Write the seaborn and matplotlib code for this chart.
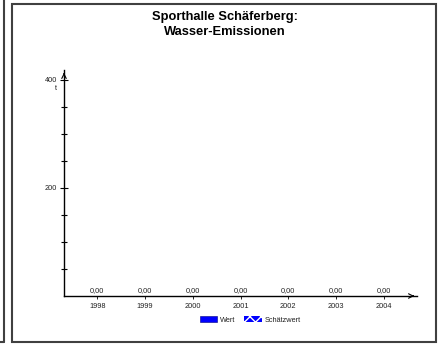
import matplotlib
matplotlib.use("Agg")
import matplotlib.pyplot as plt
import seaborn as sns
import pandas as pd
from matplotlib.patches import Rectangle, Patch
from matplotlib.lines import Line2D

years = ["1998", "1999", "2000", "2001", "2002", "2003", "2004"]
wert = [0.0, 0.0, 0.0, 0.0, 0.0, 0.0, 0.0]
title = "Sporthalle Schäferberg:\nWasser-Emissionen"
unit = "t"
major_ticks = [200, 400]
minor_ticks = [50, 100, 150, 250, 300, 350]
legend_labels = ["Wert", "Schätzwert"]

sns.set_theme(style="white")
plt.rcParams["font.family"] = ["Liberation Sans", "DejaVu Sans"]

W, H = 442, 345
fig = plt.figure(figsize=(W / 100, H / 100), dpi=100)
fig.patch.set_facecolor("white")

# panel borders
fig.add_artist(Line2D([4 / W, 4 / W], [1, 1 - 342 / H], transform=fig.transFigure, color="#404040", lw=1.5))
fig.add_artist(Line2D([0, 4 / W], [1 - 342 / H, 1 - 342 / H], transform=fig.transFigure, color="#404040", lw=1.5))
fig.add_artist(Rectangle((12 / W, 1 - 342 / H), (436 - 12) / W, (342 - 4) / H, transform=fig.transFigure,
                         fill=False, edgecolor="#404040", lw=1.5))

x0, x1 = 64, 417
y0, y1 = 296, 70
ax = fig.add_axes([x0 / W, 1 - y0 / H, (x1 - x0) / W, (y0 - y1) / H])
ax.set_facecolor("none")

df = pd.DataFrame({"Jahr": years, "Wert": wert})
sns.barplot(data=df, x="Jahr", y="Wert", color="#0000ff", ax=ax, width=0.5)
ax.set_xlim(-0.7, 6.7)
ax.set_ylim(0, 418.5)

fs = 5.3
for c in ax.containers:
    ax.bar_label(c, labels=[f"{v:.2f}".replace(".", ",") for v in wert], fontsize=fs, padding=1.5, color="#222222")

for s in ["top", "right"]:
    ax.spines[s].set_visible(False)
for s in ["left", "bottom"]:
    ax.spines[s].set_color("black")
    ax.spines[s].set_linewidth(1.0)

ax.set_yticks(major_ticks)
ax.set_yticks(minor_ticks, minor=True)
ax.set_yticklabels([str(t) for t in major_ticks])
ax.tick_params(axis="y", which="both", direction="inout", length=6, width=0.8, labelsize=fs, pad=2, left=True, colors="black")
ax.tick_params(axis="y", which="minor", length=5)
ax.tick_params(axis="x", direction="out", length=2.5, width=0.6, labelsize=fs, pad=2.5, bottom=True, colors="black")
for lbl in ax.get_yticklabels() + ax.get_xticklabels():
    lbl.set_color("#222222")
ax.set_xlabel("")
ax.set_ylabel("")

# axis arrows
ax.annotate("", xy=(0, 1.0), xytext=(0, 0.97), xycoords="axes fraction",
            arrowprops=dict(arrowstyle="->", color="black", lw=0.8, mutation_scale=8))
ax.annotate("", xy=(1.0, 0), xytext=(0.98, 0), xycoords="axes fraction",
            arrowprops=dict(arrowstyle="->", color="black", lw=0.8, mutation_scale=8))

fig.text(56 / W, 1 - 88 / H, unit, fontsize=fs, ha="center", va="center", color="#222222")

fig.text(225 / W, 1 - 24.5 / H, title, ha="center", va="center", fontsize=9.3, fontweight="bold",
         linespacing=1.35, color="black")

handles = [Patch(facecolor="#0000ff", edgecolor="#000080", lw=0.4),
           Patch(facecolor="#0000ff", edgecolor="white", hatch="xxx", lw=0.0)]
leg = fig.legend(handles, legend_labels, loc="center", bbox_to_anchor=(250 / W, 1 - 320 / H), ncol=2,
                 frameon=False, fontsize=5.3, handlelength=2.4, handleheight=0.9, columnspacing=1.2,
                 handletextpad=0.35, borderpad=0)
for t in leg.get_texts():
    t.set_color("#222222")

fig.savefig("out.png", dpi=100, facecolor="white")
